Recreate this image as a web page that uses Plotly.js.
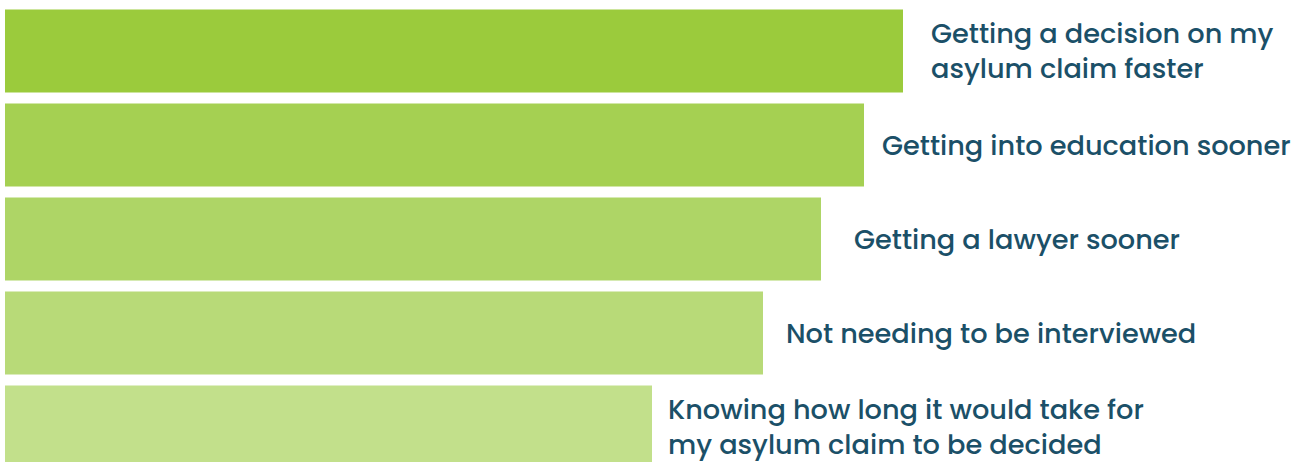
<!DOCTYPE html>
<html>
<head>
<meta charset="utf-8">
<script src="https://cdn.plot.ly/plotly-3.0.1.min.js"></script>
<style>html,body{margin:0;padding:0;background:#fff;}#chart{width:1303px;height:462px;}</style>
</head>
<body>
<div id="chart"></div>
<script>
// Data (relative lengths; no axis shown)
const categories = [
  "Getting a decision on my<br>asylum claim faster",
  "Getting into education sooner",
  "Getting a lawyer sooner",
  "Not needing to be interviewed",
  "Knowing how long it would take for<br>my asylum claim to be decided"
];
const values = [89.8, 85.9, 81.6, 75.8, 64.7];
const barColors = ["#9bcb3c", "#a5d052", "#aed566", "#b8da78", "#c2e08b"];
const labelGaps = [26, 16, 31, 21, 14];

const positions = categories.map((_, i) => i);

const trace = {
  type: "bar",
  orientation: "h",
  x: values,
  y: positions,
  base: 0,
  width: 0.883,
  marker: {color: barColors, line: {width: 0}},
  hoverinfo: "skip"
};

const annotations = categories.map((c, i) => ({
  x: values[i],
  y: positions[i],
  xref: "x",
  yref: "y",
  text: c,
  showarrow: false,
  xanchor: "left",
  yanchor: "middle",
  align: "left",
  xshift: labelGaps[i],
  font: {family: "Poppins, Inter, 'Open Sans', sans-serif", size: 27.2, color: "#1b5068", weight: 500}
}));

const layout = {
  width: 1303,
  height: 462,
  margin: {l: 5, r: 0, t: 0, b: 0},
  paper_bgcolor: "#ffffff",
  plot_bgcolor: "#ffffff",
  showlegend: false,
  xaxis: {range: [0, 129.8], visible: false, fixedrange: true},
  yaxis: {range: [4.372, -0.543], visible: false, fixedrange: true},
  annotations: annotations
};

Plotly.newPlot("chart", [trace], layout, {displayModeBar: false, staticPlot: true});
</script>
</body>
</html>
